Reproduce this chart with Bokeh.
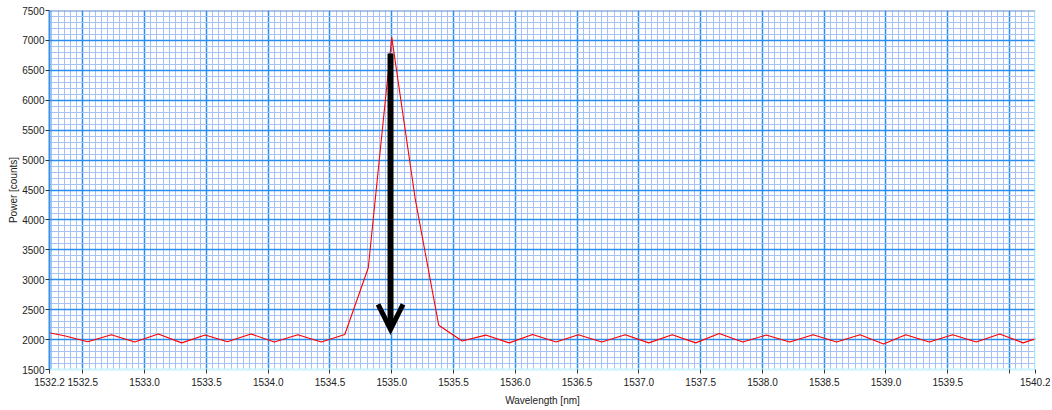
import numpy as np
from bokeh.plotting import figure
from bokeh.models import Range1d, FixedTicker, CustomJSTickFormatter, Arrow, OpenHead, Span
from bokeh.embed import file_html
from bokeh.resources import INLINE

# ---------------- data ----------------
wavelength_nm = [
    1532.16, 1532.35, 1532.54, 1532.73, 1532.92, 1533.11, 1533.30, 1533.49,
    1533.67, 1533.86, 1534.05, 1534.24, 1534.43, 1534.62, 1534.81, 1535.00,
    1535.19, 1535.38, 1535.57, 1535.76, 1535.95, 1536.14, 1536.33, 1536.51,
    1536.70, 1536.89, 1537.08, 1537.27, 1537.46, 1537.65, 1537.84, 1538.03,
    1538.22, 1538.41, 1538.60, 1538.79, 1538.98, 1539.16, 1539.35, 1539.54,
    1539.73, 1539.92, 1540.11, 1540.30,
]
power_counts = [
    2140, 2065, 1965, 2080, 1960, 2095, 1945, 2075,
    1965, 2095, 1960, 2080, 1960, 2085, 3200, 7050,
    4350, 2240, 1975, 2075, 1945, 2085, 1960, 2080,
    1960, 2080, 1945, 2080, 1945, 2100, 1960, 2075,
    1960, 2080, 1960, 2080, 1925, 2080, 1960, 2080,
    1960, 2095, 1945, 2075,
]
x_start, x_end = 1532.23, 1540.21
y_start, y_end = 1500, 7500
x_ticks = [1532.23, 1532.5, 1533.0, 1533.5, 1534.0, 1534.5, 1535.0, 1535.5,
           1536.0, 1536.5, 1537.0, 1537.5, 1538.0, 1538.5, 1539.0, 1539.5,
           1540.0, 1540.21]
x_hidden_labels = [1540.0]
y_ticks = [1500, 2000, 2500, 3000, 3500, 4000, 4500, 5000, 5500, 6000, 6500, 7000, 7500]
x_label = "Wavelength [nm]"
y_label = "Power [counts]"
arrow_x = 1534.99
arrow_y_top = 6780
arrow_y_tip = 2170

# ---------------- figure ----------------
p = figure(
    width=1050, height=408,
    x_range=Range1d(x_start, x_end), y_range=Range1d(y_start, y_end),
    output_backend="svg", toolbar_location=None,
    min_border_left=49, min_border_right=15, min_border_top=10, min_border_bottom=37,
)
p.outline_line_color = None
p.background_fill_color = "white"
p.border_fill_color = "white"

# grids
grid_major_x = [t for t in x_ticks if abs((t * 2) - round(t * 2)) < 1e-9]
minor_x = list(np.round(np.arange(1532.25, 1540.21, 0.05), 3))
minor_y = list(range(1500, 7501, 100))
p.xgrid.ticker = FixedTicker(ticks=grid_major_x, minor_ticks=minor_x)
p.ygrid.ticker = FixedTicker(ticks=y_ticks, minor_ticks=minor_y)
for g in (p.xgrid, p.ygrid):
    g.grid_line_color = "#2a8ef0"
    g.grid_line_width = 1.5
    g.minor_grid_line_color = "#a6c2f4"
    g.minor_grid_line_width = 1

# axes
fnt = "Liberation Sans"
p.xaxis.ticker = FixedTicker(ticks=x_ticks)
p.xaxis.formatter = CustomJSTickFormatter(
    args=dict(hidden=x_hidden_labels),
    code="""
    for (const h of hidden) { if (Math.abs(tick - h) < 1e-6) return ""; }
    return (Math.floor(tick * 10 + 1e-6) / 10).toFixed(1);
    """,
)
p.yaxis.ticker = FixedTicker(ticks=y_ticks)
p.xaxis.axis_label = x_label
p.yaxis.axis_label = y_label
for ax in (p.xaxis, p.yaxis):
    ax.major_label_text_font = fnt
    ax.major_label_text_font_size = "10px"
    ax.major_label_text_color = "#222222"
    ax.axis_label_text_font = fnt
    ax.axis_label_text_font_size = "10px"
    ax.axis_label_text_font_style = "normal"
    ax.axis_label_text_color = "#222222"
    ax.major_tick_in = 0
    ax.minor_tick_line_color = None
    ax.major_tick_line_color = "#333333"
p.xaxis.major_tick_out = 4
p.xaxis.major_label_standoff = 4
p.xaxis.axis_label_standoff = 6
p.xaxis.axis_line_color = "#c8f4fc"
p.xaxis.axis_line_width = 2
p.yaxis.major_tick_out = 4
p.yaxis.major_label_standoff = 1
p.yaxis.axis_label_standoff = 0
p.yaxis.axis_line_color = "#3990e8"
p.yaxis.axis_line_width = 2

# frame edges top / right
p.add_layout(Span(location=y_end, dimension="width", line_color="#5f8ec8", line_width=2))
p.add_layout(Span(location=x_end, dimension="height", line_color="#c4ffff", line_width=2))

# spectrum
p.line(wavelength_nm, power_counts, line_color="#ff0000", line_width=1.1)

# arrow
p.add_layout(Arrow(
    end=OpenHead(size=25, line_width=5, line_color="black", line_join="miter"),
    x_start=arrow_x, y_start=arrow_y_top, x_end=arrow_x, y_end=arrow_y_tip,
    line_width=6, line_color="black",
))

open("out.html", "w").write(file_html(p, INLINE))
